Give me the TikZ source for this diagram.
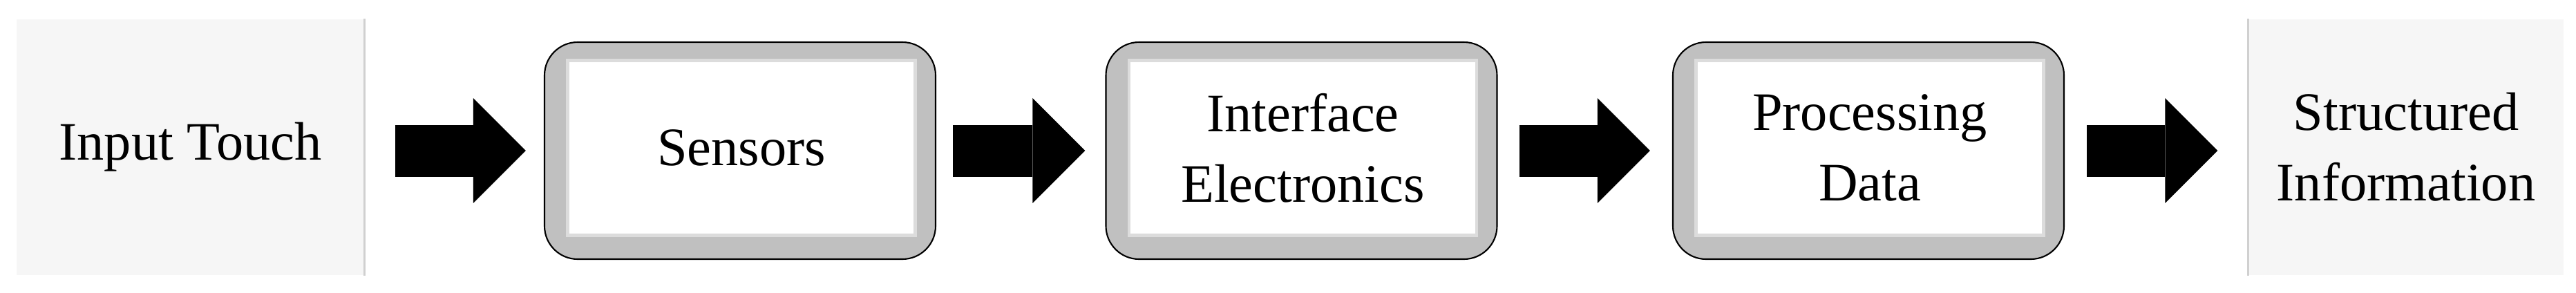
\documentclass[tikz,border=0pt]{standalone}
\usepackage{fontspec}
\setmainfont{Liberation Serif}
\usetikzlibrary{calc, positioning, arrows.meta}

\definecolor{panelfill}{HTML}{F6F6F6}
\definecolor{panelline}{HTML}{D0D0D0}
\definecolor{framefill}{HTML}{C0C0C0}
\definecolor{innerline}{HTML}{DCDCDC}

\begin{document}
\begin{tikzpicture}[
        font=\fontsize{22.3}{29}\selectfont,
        panel/.style={fill=panelfill, minimum height=3.7cm, inner sep=0pt, align=center},
        framebox/.style={draw=black, line width=0.6pt, fill=framefill, rounded corners=0.48cm, minimum width=5.66cm, minimum height=3.14cm, inner sep=0pt},
        innerbox/.style={draw=innerline, line width=1.2pt, fill=white, minimum width=5.03cm, minimum height=2.53cm, inner sep=0pt, align=center},
        blockarrow/.style={line width=0.75cm, -{Triangle[length=0.76cm, width=1.52cm, line width=0pt]}}
    ]
        \useasboundingbox (0,0) rectangle (37.28,4.23);

        %Felder
        \node[panel, minimum width=5.03cm] (input) at (2.755,2.10) {Input Touch};
        \node[panel, minimum width=4.56cm] (output) at (34.82,2.10) {Structured\\Information};
        \draw[panelline, line width=0.8pt] (input.north east) -- (input.south east);
        \draw[panelline, line width=0.8pt] (output.north west) -- (output.south west);

        %Kästen
        \node[framebox] (sensors) at (10.71,2.05) {};
        \node[innerbox] (sensorsin) at (10.73,2.09) {Sensors};
        \node[framebox] (iface) at (18.835,2.05) {};
        \node[innerbox] (ifacein) at (18.855,2.09) {Interface\\Electronics};
        \node[framebox] (proc) at (27.04,2.05) {};
        \node[innerbox] (procin) at (27.06,2.09) {Processing\\Data};

        %Pfeile
        \draw[blockarrow, shorten <=0.44cm, shorten >=0.26cm] (input.east |- sensors.west) -- (sensors.west);
        \draw[blockarrow, shorten <=0.24cm, shorten >=0.29cm] (sensors.east) -- (iface.west);
        \draw[blockarrow, shorten <=0.31cm, shorten >=0.32cm] (iface.east) -- (proc.west);
        \draw[blockarrow, shorten <=0.32cm, shorten >=0.44cm] (proc.east) -- (output.west |- proc.east);
    \end{tikzpicture}
\end{document}
